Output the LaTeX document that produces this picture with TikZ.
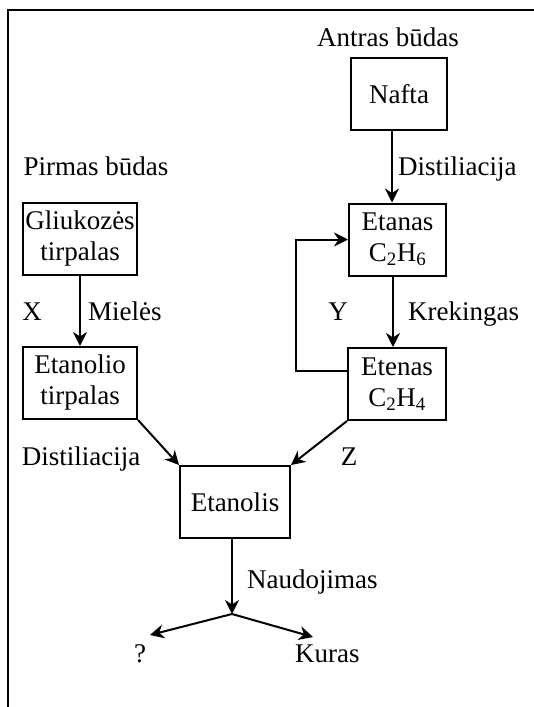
\documentclass[tikz,border=0pt]{standalone}
\usepackage{fontspec}
\setmainfont{Liberation Serif}
\usetikzlibrary{arrows.meta}

\begin{document}
\begin{tikzpicture}[x=1pt, y=-1pt,
        font=\fontsize{27}{31}\selectfont,
        box/.style={draw, line width=2pt, align=center, inner sep=0pt, minimum height=72pt},
        arr/.style={line width=2pt, -{Stealth[length=14pt, width=14pt, inset=4.5pt]}},
        lbl/.style={anchor=base, inner sep=0pt}]
                \useasboundingbox (0,0) rectangle (534,707);
                \draw[line width=2.5pt] (8,720) -- (8,10) -- (545,10);
                
                % Boxes
                \node[box, minimum width=96pt] (nafta) at (399,94) {Nafta};
                \node[box, minimum width=97pt] (etanas) at (397.5,239.5) {Etanas\\C\textsubscript{2}H\textsubscript{6}};
                \node[box, minimum width=98pt] (etenas) at (397,384) {Etenas\\C\textsubscript{2}H\textsubscript{4}};
                \node[box, minimum width=114pt] (gliukoze) at (80,239) {Gliukozės\\tirpalas};
                \node[box, minimum width=114pt] (etanolio) at (80,383) {Etanolio\\tirpalas};
                \node[box, minimum width=110pt] (etanolis) at (235,502) {Etanolis};
                
                % Labels
                \node[lbl] (antras) at (388,46) {Antras būdas};
                \node[lbl] (pirmas) at (96,175) {Pirmas būdas};
                \node[lbl, anchor=base west] (distA) at (398,175) {Distiliacija};
                \node[lbl] (x) at (32,320) {X};
                \node[lbl, anchor=base west] (mieles) at (88,320) {Mielės};
                \node[lbl] (y) at (338,320) {Y};
                \node[lbl, anchor=base west] (krekingas) at (408,320) {Krekingas};
                \node[lbl] (distB) at (81,465) {Distiliacija};
                \node[lbl] (z) at (349,465) {Z};
                \node[lbl, anchor=base west] (naudojimas) at (247,588) {Naudojimas};
                \node[lbl] (klaus) at (140,662) {?};
                \node[lbl, anchor=base west] (kuras) at (295,662) {Kuras};
                
                % Arrows
                \draw[arr] ([xshift=-7pt]nafta.south) -- ([xshift=-5.5pt]etanas.north);
                \draw[arr] ([xshift=-4.5pt]etanas.south) -- ([xshift=-4pt]etenas.north);
                \draw[arr] (gliukoze) -- (etanolio);
                \draw[arr] (etanolio.south east) -- (etanolis.north west);
                \draw[arr] (etenas.south west) -- (etanolis.north east);
                \draw[arr] (etenas.west |- 0,371) -- (296,371) |- (etanas.west);
                
                % Use
                \coordinate (split) at (232,614);
                \coordinate (klausTip) at (150,635);
                \coordinate (kurasTip) at (313,637);
                \draw[arr] (etanolis.south -| split) -- (split);
                \draw[arr] (split) -- (klausTip);
                \draw[arr] (split) -- (kurasTip);
            \end{tikzpicture}
\end{document}
